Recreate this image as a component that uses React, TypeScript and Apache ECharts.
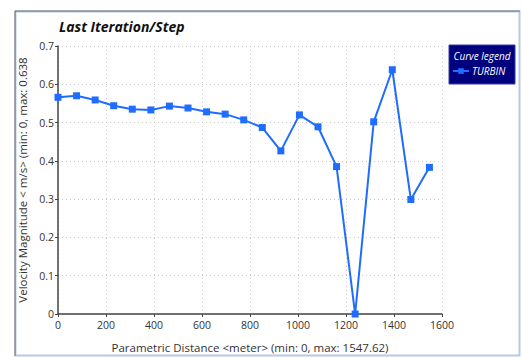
import React, { useEffect, useRef } from "react";
import * as echarts from "echarts";

const seriesName = "TURBIN";
const distances = [
  0, 77.38, 154.76, 232.14, 309.52, 386.91, 464.29, 541.67, 619.05, 696.43,
  773.81, 851.19, 928.57, 1005.95, 1083.34, 1160.72, 1238.1, 1315.48, 1392.86,
  1470.24, 1547.62,
];
const velocity = [
  0.566, 0.57, 0.559, 0.544, 0.535, 0.533, 0.543, 0.538, 0.528, 0.522, 0.507,
  0.487, 0.426, 0.52, 0.489, 0.385, 0, 0.502, 0.638, 0.299, 0.383,
];
const titleText = "Last Iteration/Step";
const xName = "Parametric Distance <meter> (min: 0, max: 1547.62)";
const yName = "Velocity Magnitude < m/s> (min: 0, max: 0.638";
const legendTitle = "Curve legend";

export default function App() {
  const ref = useRef<HTMLDivElement>(null);
  useEffect(() => {
    if (!ref.current) return;
    const chart = echarts.init(ref.current, undefined, { renderer: "svg" });
    const font = "'Open Sans', sans-serif";
    const blue = "#1f6cff";
    chart.setOption({
      animation: false,
      backgroundColor: "#ffffff",
      textStyle: { fontFamily: font },
      grid: { left: 58, right: 80, top: 46, bottom: 43 },
      title: {
        text: titleText,
        left: 54,
        top: 14,
        textStyle: {
          fontFamily: font,
          fontSize: 14,
          fontWeight: "bold",
          fontStyle: "italic",
          color: "#111",
        },
      },
      legend: {
        data: [seriesName],
        left: 452,
        top: 66,
        itemWidth: 16,
        itemHeight: 7,
        itemGap: 4,
        padding: 0,
        textStyle: {
          color: "#ffffff",
          fontStyle: "italic",
          fontSize: 10,
          fontFamily: font,
          padding: [0, 0, 0, -2],
        },
      },
      graphic: [
        {
          type: "rect",
          shape: { x: 15.5, y: 11.5, width: 504, height: 344 },
          style: { fill: "none", stroke: "#b3cbe6", lineWidth: 2 },
          z: 0,
        },
        {
          type: "line",
          shape: { x1: 15, y1: 11, x2: 520, y2: 11 },
          style: { stroke: "#6b6b6b", lineWidth: 1 },
          z: 1,
        },
        {
          type: "line",
          shape: { x1: 15, y1: 11, x2: 15, y2: 356 },
          style: { stroke: "#6b6b6b", lineWidth: 1 },
          z: 1,
        },
        {
          type: "rect",
          shape: { x: 449, y: 45, width: 66, height: 39 },
          style: { fill: "#00007f", stroke: "#3a3aa0", lineWidth: 1 },
          z: 0,
        },
        {
          type: "text",
          x: 482,
          y: 56,
          style: {
            text: legendTitle,
            fill: "#ffffff",
            fontSize: 10,
            fontStyle: "italic",
            fontFamily: font,
            align: "center",
            verticalAlign: "middle",
          },
          z: 2,
        },
      ],
      xAxis: {
        type: "value",
        min: 0,
        max: 1600,
        interval: 200,
        name: xName,
        nameLocation: "middle",
        nameGap: 27,
        nameTextStyle: { fontSize: 11.5, color: "#333", fontFamily: font },
        axisLine: { show: true, lineStyle: { color: "#444", width: 1.5 } },
        axisTick: { show: true, length: 3, lineStyle: { color: "#444" } },
        axisLabel: {
          fontSize: 10.5,
          color: "#333",
          margin: 5,
          fontFamily: font,
          formatter: (v: number) => String(v),
        },
        splitLine: {
          show: true,
          lineStyle: { color: "#c8c8c8", type: [1, 3], width: 1 },
        },
      },
      yAxis: {
        type: "value",
        min: 0,
        max: 0.7,
        interval: 0.1,
        name: yName,
        nameLocation: "middle",
        nameGap: 24,
        nameTextStyle: { fontSize: 11.5, color: "#333", fontFamily: font },
        axisLine: { show: true, lineStyle: { color: "#444", width: 1.5 } },
        axisTick: { show: true, length: 3, lineStyle: { color: "#444" } },
        axisLabel: {
          fontSize: 10.5,
          color: "#333",
          margin: 4,
          fontFamily: font,
          formatter: (v: number) => String(Math.round(v * 10) / 10),
        },
        splitLine: {
          show: true,
          lineStyle: { color: "#c8c8c8", type: [1, 3], width: 1 },
        },
      },
      series: [
        {
          name: seriesName,
          type: "line",
          data: distances.map((d, i) => [d, velocity[i]]),
          symbol: "rect",
          symbolSize: 7,
          lineStyle: { color: blue, width: 2 },
          itemStyle: { color: blue },
          clip: false,
        },
      ],
    });
    return () => chart.dispose();
  }, []);
  return (
    <div
      ref={ref}
      style={{ position: "fixed", left: 0, top: 0, width: 522, height: 358 }}
    />
  );
}
